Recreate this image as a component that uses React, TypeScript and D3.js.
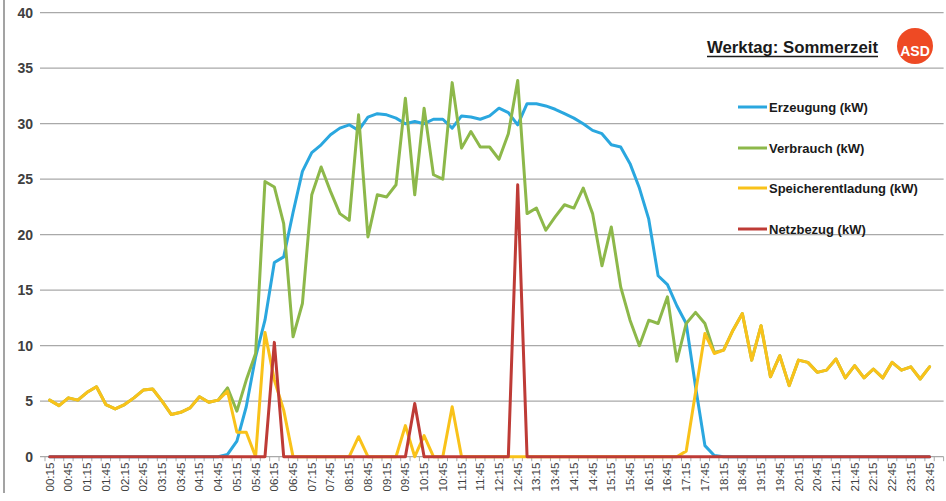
import React from "react";
import * as d3 from "d3";

// 15-minute categories 00:15 .. 24:00 (last has no data)
const categories: string[] = d3.range(96).map((i) => {
  const m = 15 + i * 15;
  return `${String(Math.floor(m / 60)).padStart(2, "0")}:${String(m % 60).padStart(2, "0")}`;
});

const yTicks = [0, 5, 10, 15, 20, 25, 30, 35, 40];

const erzeugung = [
  0, 0, 0, 0, 0, 0, 0, 0, 0, 0, 0, 0, 0, 0, 0, 0, 0, 0, 0,
  0.2, 1.4, 4.5, 9.0, 12.3, 17.5, 18.0, 22.0, 25.7, 27.4, 28.1, 29.0, 29.6, 29.9, 29.4,
  30.6, 30.9, 30.8, 30.5, 30.0, 30.2, 30.0, 30.4, 30.4, 29.6, 30.7, 30.6, 30.4, 30.7,
  31.4, 31.0, 29.9, 31.8, 31.8, 31.6, 31.3, 30.9, 30.5, 30.0, 29.4, 29.1, 28.1, 27.9,
  26.4, 24.2, 21.4, 16.3, 15.5, 13.6, 12.0, 6.3, 1.0, 0.1,
  0, 0, 0, 0, 0, 0, 0, 0, 0, 0, 0, 0, 0, 0, 0, 0, 0, 0, 0, 0, 0, 0, 0,
];

const verbrauch = [
  5.1, 4.6, 5.3, 5.1, 5.8, 6.3, 4.7, 4.3, 4.7, 5.3, 6.0, 6.1, 5.0, 3.8, 4.0, 4.4, 5.4, 4.9, 5.1,
  6.2, 4.1, 6.9, 9.3, 24.8, 24.3, 21.0, 10.8, 13.8, 23.6, 26.1, 23.9, 21.9, 21.3, 30.8,
  19.8, 23.6, 23.4, 24.5, 32.3, 23.6, 31.4, 25.4, 25.0, 33.7, 27.8, 29.3, 27.9, 27.9,
  26.8, 29.1, 33.9, 21.9, 22.4, 20.4, 21.6, 22.7, 22.4, 24.2, 21.9, 17.2, 20.7, 15.3,
  12.3, 10.0, 12.3, 12.0, 14.4, 8.6, 12.0, 13.0, 12.0, 9.4,
  9.6, 11.4, 12.9, 8.7, 11.8, 7.2, 9.1, 6.4, 8.7, 8.5, 7.6, 7.8, 8.8, 7.1, 8.2, 7.1, 7.9,
  7.1, 8.5, 7.8, 8.1, 7.0, 8.1,
];

const speicherentladung = [
  5.1, 4.6, 5.3, 5.1, 5.8, 6.3, 4.7, 4.3, 4.7, 5.3, 6.0, 6.1, 5.0, 3.8, 4.0, 4.4, 5.4, 4.9, 5.1,
  5.9, 2.2, 2.2, 0, 11.2, 6.9, 4.2, 0, 0, 0, 0, 0, 0, 0, 1.8,
  0, 0, 0, 0, 2.8, 0, 1.9, 0, 0, 4.5, 0, 0, 0, 0,
  0, 0, 0, 0, 0, 0, 0, 0, 0, 0, 0, 0, 0, 0,
  0, 0, 0, 0, 0, 0, 0.5, 5.8, 11.1, 9.3,
  9.6, 11.4, 12.9, 8.7, 11.8, 7.2, 9.1, 6.4, 8.7, 8.5, 7.6, 7.8, 8.8, 7.1, 8.2, 7.1, 7.9,
  7.1, 8.5, 7.8, 8.1, 7.0, 8.1,
];

const netzbezug = [
  0, 0, 0, 0, 0, 0, 0, 0, 0, 0, 0, 0, 0, 0, 0, 0, 0, 0, 0,
  0, 0, 0, 0, 0, 10.3, 0, 0, 0, 0, 0, 0, 0, 0, 0,
  0, 0, 0, 0, 0, 4.8, 0, 0, 0, 0, 0, 0, 0, 0,
  0, 0, 24.5, 0, 0, 0, 0, 0, 0, 0, 0, 0, 0, 0,
  0, 0, 0, 0, 0, 0, 0, 0, 0, 0,
  0, 0, 0, 0, 0, 0, 0, 0, 0, 0, 0, 0, 0, 0, 0, 0, 0,
  0, 0, 0, 0, 0, 0,
];

const seriesNames = ["Erzeugung (kW)", "Verbrauch (kW)", "Speicherentladung (kW)", "Netzbezug (kW)"];
const seriesColors = ["#2aa7df", "#8db84a", "#f9c21a", "#be3b36"];
const seriesData = [erzeugung, verbrauch, speicherentladung, netzbezug];

const title = "Werktag: Sommerzeit";
const logoText = "ASD";

export default function App() {
  const W = 946;
  const H = 501;
  const x = d3.scaleBand<string>().domain(categories).range([45, 943.6]);
  const bw = x.bandwidth();
  const cx = (i: number) => (x(categories[i]) as number) + bw / 2;
  const y = d3.scaleLinear().domain([0, 40]).range([456.7, 12.7]);
  const line = d3
    .line<number>()
    .x((_, i) => cx(i))
    .y((d) => y(d));

  const legendY = [107, 148, 188, 229];
  const font = "'Liberation Sans', Arial, sans-serif";

  return (
    <svg
      width={W}
      height={H}
      style={{ position: "absolute", left: 0, top: 0, background: "#fff" }}
      fontFamily={font}
    >
      <rect x={0} y={0} width={W} height={H} fill="#fff" />
      <line x1={4} x2={4} y1={0} y2={493} stroke="#8c8c8c" strokeWidth={1.6} />
      {yTicks.map((t) => (
        <g key={t}>
          <line x1={40} x2={943.6} y1={y(t)} y2={y(t)} stroke="#a9a9a9" strokeWidth={1.3} />
          <text
            x={33}
            y={y(t)}
            textAnchor="end"
            dominantBaseline="central"
            fontSize={14}
            fontWeight="bold"
            fill="#404040"
          >
            {t}
          </text>
        </g>
      ))}
      {d3.range(97).map((k) => (
        <line
          key={k}
          x1={45 + k * bw}
          x2={45 + k * bw}
          y1={y(0)}
          y2={y(0) + 4.5}
          stroke="#a9a9a9"
          strokeWidth={1}
        />
      ))}
      {categories.map((c, i) =>
        i % 2 === 0 && i < 95 ? (
          <text
            key={c}
            transform={`translate(${cx(i)},${y(0) + 6}) rotate(-90)`}
            textAnchor="end"
            dominantBaseline="central"
            fontSize={11.5}
            fill="#404040"
          >
            {c}
          </text>
        ) : null
      )}
      {seriesData.map((s, k) => (
        <path
          key={k}
          d={line(s) || ""}
          fill="none"
          stroke={seriesColors[k]}
          strokeWidth={3}
          strokeLinejoin="round"
          strokeLinecap="round"
        />
      ))}
      <text
        x={707}
        y={53}
        fontSize={16}
        fontWeight="bold"
        fill="#1a1a1a"
        textLength={171}
        lengthAdjust="spacingAndGlyphs"
      >
        {title}
      </text>
      <line x1={707} x2={878} y1={56.5} y2={56.5} stroke="#1a1a1a" strokeWidth={1.3} />
      <circle cx={915} cy={46} r={18} fill="#ee4a24" />
      <text
        x={915}
        y={51}
        textAnchor="middle"
        dominantBaseline="central"
        fontSize={14}
        fontWeight="bold"
        fill="#fff"
      >
        {logoText}
      </text>
      {seriesNames.map((n, k) => (
        <g key={n}>
          <line x1={738} x2={767} y1={legendY[k]} y2={legendY[k]} stroke={seriesColors[k]} strokeWidth={3} />
          <text x={769} y={legendY[k]} dominantBaseline="central" fontSize={13} fontWeight="bold" fill="#1a1a1a">
            {n}
          </text>
        </g>
      ))}
    </svg>
  );
}
